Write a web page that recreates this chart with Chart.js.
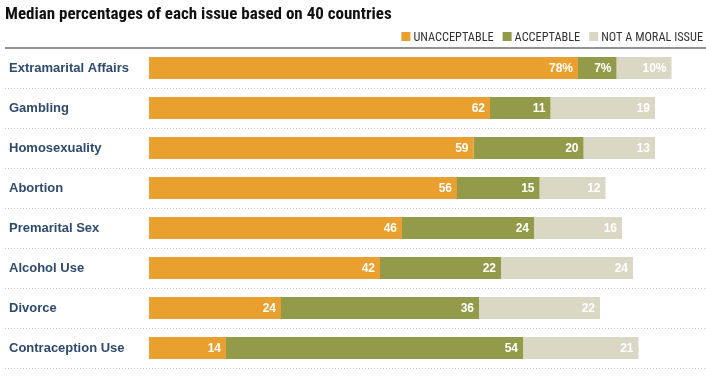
<!DOCTYPE html>
<html>
<head>
<meta charset="utf-8">
<script src="https://cdn.jsdelivr.net/npm/chart.js@4.4.1/dist/chart.umd.min.js"></script>
<style>
  html, body { margin: 0; padding: 0; background: #fff; }
  #wrap { width: 706px; height: 379px; position: relative; }
</style>
</head>
<body>
<div id="wrap"><canvas id="issuesChart"></canvas></div>
<script>
// dados
const categorias = ['Extramarital Affairs', 'Gambling', 'Homosexuality', 'Abortion',
    'Premarital Sex', 'Alcohol Use', 'Divorce', 'Contraception Use'];
const inaceitavel = [78, 62, 59, 56, 46, 42, 24, 14];
const aceitavel = [7, 11, 20, 15, 24, 22, 36, 54];
const naoMoral = [10, 19, 13, 12, 16, 24, 22, 21];
const nomesSeries = ['UNACCEPTABLE', 'ACCEPTABLE', 'NOT A MORAL ISSUE'];
const cores = ['#e9a02e', '#939b4a', '#dad7c5'];
const titulo = 'Median percentages of each issue based on 40 countries';

const fonteCond = '"Roboto Condensed", Roboto, "Liberation Sans", sans-serif';
const fonteBase = '"Liberation Sans", Arial, sans-serif';

// título, legenda, linhas separadoras e rótulos de valor
const extrasPlugin = {
    id: 'extras',
    afterDraw(chart) {
        const ctx = chart.ctx;
        const y = chart.scales.y;
        const area = chart.chartArea;
        const passo = y.getPixelForValue(1) - y.getPixelForValue(0);

        ctx.save();

        // título
        ctx.fillStyle = '#111111';
        ctx.font = 'bold 17px ' + fonteCond;
        ctx.textAlign = 'left';
        ctx.textBaseline = 'alphabetic';
        ctx.fillText(titulo, 5, 18.5);

        // legenda (alinhada à direita)
        ctx.font = '12.3px ' + fonteCond;
        const caixa = 9, gapTxt = 3, gapItem = 9;
        const larguras = chart.data.datasets.map(ds => ctx.measureText(ds.label).width);
        let total = 0;
        larguras.forEach((w, i) => { total += caixa + gapTxt + w + (i > 0 ? gapItem : 0); });
        let x = 703 - total;
        chart.data.datasets.forEach((ds, i) => {
            ctx.fillStyle = ds.backgroundColor;
            ctx.fillRect(x, 32, caixa, caixa);
            ctx.fillStyle = '#333333';
            ctx.fillText(ds.label, x + caixa + gapTxt, 41);
            x += caixa + gapTxt + larguras[i] + gapItem;
        });

        // linha sólida do topo
        ctx.strokeStyle = '#6e6e6e';
        ctx.lineWidth = 1.5;
        ctx.beginPath();
        ctx.moveTo(5, area.top);
        ctx.lineTo(706, area.top);
        ctx.stroke();

        // linhas pontilhadas entre categorias
        ctx.strokeStyle = '#c4c4c4';
        ctx.lineWidth = 1;
        ctx.setLineDash([1, 2]);
        categorias.forEach((c, i) => {
            const yy = Math.round(y.getPixelForValue(i) + passo / 2) + 0.5;
            ctx.beginPath();
            ctx.moveTo(5, yy);
            ctx.lineTo(706, yy);
            ctx.stroke();
        });
        ctx.setLineDash([]);

        // valores dentro das barras
        ctx.fillStyle = '#ffffff';
        ctx.font = 'bold 12px ' + fonteBase;
        ctx.textAlign = 'right';
        ctx.textBaseline = 'middle';
        chart.data.datasets.forEach((ds, di) => {
            const meta = chart.getDatasetMeta(di);
            meta.data.forEach((bar, i) => {
                const txt = ds.data[i] + (i === 0 ? '%' : '');
                ctx.fillText(txt, bar.x - 5, bar.y + 1);
            });
        });
        ctx.restore();
    }
};

new Chart(document.getElementById('issuesChart'), {
    type: 'bar',
    data: {
        labels: categorias,
        datasets: [
            { label: nomesSeries[0], data: inaceitavel, backgroundColor: cores[0] },
            { label: nomesSeries[1], data: aceitavel, backgroundColor: cores[1] },
            { label: nomesSeries[2], data: naoMoral, backgroundColor: cores[2] }
        ]
    },
    options: {
        indexAxis: 'y',
        responsive: true,
        maintainAspectRatio: false,
        animation: false,
        datasets: { bar: { barPercentage: 0.55, categoryPercentage: 1, borderWidth: 0 } },
        layout: { padding: { left: 9, right: 7, top: 48, bottom: 11 } },
        plugins: {
            title: { display: false },
            legend: { display: false },
            tooltip: { enabled: false }
        },
        scales: {
            x: { stacked: true, display: false, min: 0, max: 100 },
            y: {
                stacked: true,
                grid: { display: false },
                border: { display: false },
                afterFit(scale) { scale.width = 140; },
                ticks: {
                    crossAlign: 'far',
                    color: '#2e4a6c',
                    font: { family: fonteBase, size: 13, weight: 'bold' }
                }
            }
        }
    },
    plugins: [extrasPlugin]
});
</script>
</body>
</html>
